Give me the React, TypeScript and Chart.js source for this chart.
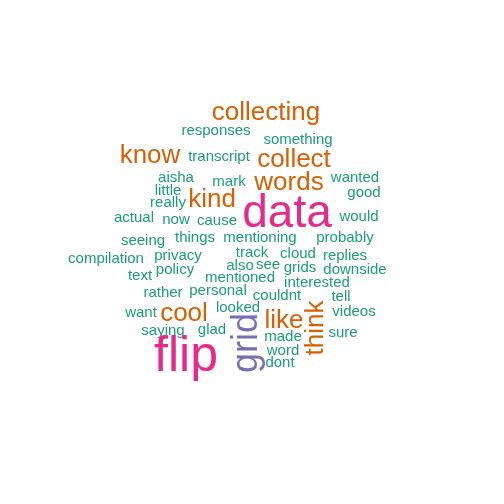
import React, { useEffect, useRef } from "react";
import { Chart, registerables } from "chart.js";
Chart.register(...registerables);

const words = ["collecting","responses","something","know","transcript","collect","aisha","mark","words","wanted","little","kind","good","really","data","actual","now","cause","would","seeing","things","mentioning","probably","compilation","privacy","track","cloud","replies","text","policy","also","see","grids","downside","mentioned","interested","rather","personal","couldnt","tell","want","looked","cool","like","think","videos","saying","glad","made","sure","grid","flip","word","dont"];
const xs = [266,216,298,150,219,294,176,229,289,355,168,212,364,168,287,134,176,217,359,143,195,260,345,106,178,252,298,345,140,175,240,268,300,355,240,317,163,218,277,341,141,238,184,284,316,354,163,212,283,343,247,186,283,280];
const ys = [113,131,140,156,157,160,178,182,183,178,191,200,193,203,214,218,220,221,217,241,238,238,238,259,256,253,254,256,276,270,266,265,268,270,278,283,293,291,296,297,313,308,314,321,328,312,331,330,337,333,343,357,351,363];
const sizes = [26,15,15,26,15,26,15,15,26,15,15,26,15,15,46,15,15,15,15,15,15,15,15,15,15,15,15,15,15,15,15,15,15,15,15,15,15,15,15,15,15,15,26,26,26,15,15,15,15,15,36,50,15,15];
const groups = ["o","g","g","o","g","o","g","g","o","g","g","o","g","g","p","g","g","g","g","g","g","g","g","g","g","g","g","g","g","g","g","g","g","g","g","g","g","g","g","g","g","g","o","o","o","g","g","g","g","g","u","p","g","g"];
const rotated = ["think","grid"];
const palette: Record<string,string> = { g: "#1b9e77", o: "#d95f02", p: "#e7298a", u: "#7570b3" };

export default function App() {
  const ref = useRef<HTMLCanvasElement>(null);
  useEffect(() => {
    document.body.style.margin = "0";
    const textPlugin = {
      id: "words",
      afterDatasetsDraw(chart: any) {
        const ctx = chart.ctx;
        const xS = chart.scales.x, yS = chart.scales.y;
        ctx.save();
        ctx.textAlign = "center";
        ctx.textBaseline = "middle";
        words.forEach((w, i) => {
          ctx.save();
          ctx.translate(xS.getPixelForValue(xs[i]), yS.getPixelForValue(ys[i]));
          if (rotated.includes(w)) ctx.rotate(-Math.PI / 2);
          ctx.font = `${sizes[i]}px "Liberation Sans", Arial, sans-serif`;
          ctx.fillStyle = palette[groups[i]];
          ctx.fillText(w, 0, 0);
          ctx.restore();
        });
        ctx.restore();
      },
    };
    const chart = new Chart(ref.current!, {
      type: "scatter",
      data: { datasets: [{ data: xs.map((x, i) => ({ x, y: ys[i] })), pointRadius: 0 }] },
      options: {
        animation: false,
        responsive: false,
        layout: { padding: 0 },
        plugins: { legend: { display: false }, tooltip: { enabled: false } },
        scales: {
          x: { display: false, min: 0, max: 504 },
          y: { display: false, min: 0, max: 504, reverse: true },
        },
      },
      plugins: [textPlugin],
    });
    return () => chart.destroy();
  }, []);
  return <canvas ref={ref} width={504} height={504} style={{ display: "block" }} />;
}
